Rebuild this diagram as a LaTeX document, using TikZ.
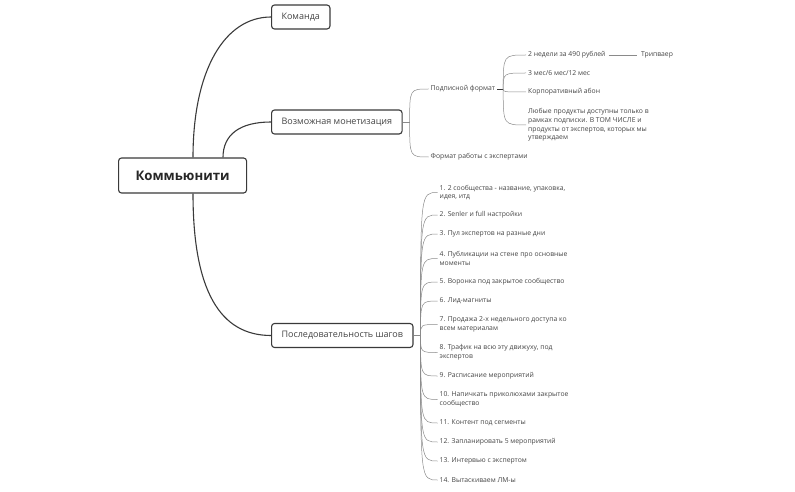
\documentclass[tikz,border=0pt]{standalone}
\usepackage{fontspec}
\setmainfont{Open Sans}
\usetikzlibrary{calc}
\definecolor{linegray}{HTML}{3A3A3A}
\definecolor{subgray}{HTML}{8A8A8A}
\definecolor{txtgray}{HTML}{444444}
\tikzset{
  topic/.style={draw=linegray, line width=1.1pt, rounded corners=3pt, fill=white,
    inner xsep=10pt, minimum height=24pt, anchor=west, text=txtgray,
    font=\fontsize{9}{10}\selectfont},
  leaf/.style={anchor=west, inner sep=2pt, align=left, text=txtgray, yshift=-1pt,
    font=\fontsize{6.8}{8.8}\selectfont},
  branch/.style={draw=linegray, line width=1.1pt},
  twig/.style={draw=subgray, line width=0.5pt},
}
\begin{document}
\begin{tikzpicture}[x=1pt, y=-1pt]
\useasboundingbox (0,0) rectangle (795,492);
% main topics
\node[topic, inner xsep=0pt, minimum width=128pt, minimum height=35pt, text=black!85,
  font=\fontsize{13.2}{15}\selectfont\bfseries] (root) at (118,175.5) {Коммьюнити};
\node[topic] (team) at (271,17) {Команда};
\node[topic] (money) at (271,122) {Возможная монетизация};
\node[topic] (steps) at (271,335.5) {Последовательность шагов};
\coordinate (r1) at ($(root.north west)+(75,0)$);
\coordinate (r2) at ($(root.north west)+(105,0)$);
\coordinate (r3) at ($(root.south west)+(75,0)$);
\draw[branch] (r1) .. controls ($(r1)+(0,-88)$) and ($(team.west)+(-46,0)$) .. (team.west);
\draw[branch] (r2) .. controls ($(r2)+(0,-23)$) and ($(money.west)+(-31,0)$) .. (money.west);
\draw[branch] (r3) .. controls ($(r3)+(0,97)$) and ($(steps.west)+(-51,0)$) .. (steps.west);
% monetization
\coordinate (m0) at ($(money.east)+(7,0)$);
\draw[twig] (money.east) -- (m0);
\node[leaf] (sub) at (428.5,88) {Подписной формат};
\node[leaf] (expert) at (428.5,156) {Формат работы с экспертами};
\draw[twig] (m0) .. controls (m0 |- sub.west) .. (sub.west);
\draw[twig] (m0) .. controls (m0 |- expert.west) .. (expert.west);
\coordinate (p0) at ($(sub.east)+(6,0)$);
\draw[linegray, line width=0.8pt] (sub.east) -- (p0);
\node[leaf] (twoweeks) at (526,54) {2 недели за 490 рублей};
\node[leaf] (months) at (526,72) {3 мес/6 мес/12 мес};
\node[leaf] (corp) at (526,91) {Корпоративный абон};
\node[leaf] (anyprod) at (526,124) {Любые продукты доступны только в\\рамках подписки. В ТОМ ЧИСЛЕ и\\продукты от экспертов, которых мы\\утверждаем};
\node[leaf] (trip) at (639,54) {Трипваер};
\foreach \n in {twoweeks, months, corp, anyprod}
  \draw[twig] (p0) .. controls (p0 |- \n.west) .. (\n.west);
\draw[twig, shorten <=1pt, shorten >=2pt] (twoweeks.east) -- (trip.west);
% steps
\coordinate (s0) at ($(steps.east)+(7,0)$);
\draw[twig] (steps.east) -- (s0);
\foreach \y/\txt [count=\i] in {
  191.5/{1. 2 сообщества - название, упаковка,\\идея, итд},
  214/{2. Senler и full настройки},
  233/{3. Пул экспертов на разные дни},
  257.5/{4. Публикации на стене про основные\\моменты},
  281/{5. Воронка под закрытое сообщество},
  300/{6. Лид-магниты},
  323.5/{7. Продажа 2-х недельного доступа ко\\всем материалам},
  351.5/{8. Трафик на всю эту движуху, под\\экспертов},
  375/{9. Расписание мероприятий},
  398.5/{10. Напичкать приколюхами закрытое\\сообщество},
  422/{11. Контент под сегменты},
  441/{12. Запланировать 5 мероприятий},
  460/{13. Интервью с экспертом},
  479/{14. Вытаскиваем ЛМ-ы}}{
  \node[leaf] (step\i) at (437.5,\y) {\txt};
  \draw[twig] (s0) .. controls (s0 |- step\i.west) .. (step\i.west);
}
\end{tikzpicture}
\end{document}
